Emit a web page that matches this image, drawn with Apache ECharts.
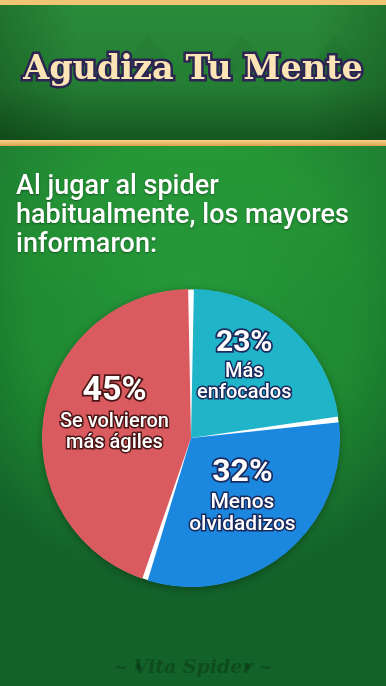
<!DOCTYPE html>
<html>
<head>
<meta charset="utf-8">
<script src="https://cdn.jsdelivr.net/npm/echarts@6/dist/echarts.min.js"></script>
<style>
  html, body { margin: 0; padding: 0; background: #1c7e2c; }
  #chart { width: 386px; height: 686px; }
</style>
</head>
<body>
<div id="chart"></div>
<script>
// Survey results: what older players reported after playing spider regularly
const titleText = 'Agudiza Tu Mente';
const subtitleLines = ['Al jugar al spider', 'habitualmente, los mayores', 'informaron:'];
const categories = ['Más\nenfocados', 'Menos\nolvidadizos', 'Se volvieron\nmás ágiles'];
const shares = [23, 32, 45];
const footerText = 'Vita Spider';

// Styling per slice
const sliceColors = ['#20b4c9', '#1c87df', '#da5b5f'];
const outlineColors = ['#1b2a5c', '#1b2a5c', '#4a1616'];
const pctSizes = [30, 32, 34];
const nameSizes = [20, 21, 20];
const labelShift = [[2, -14], [2, -2], [0, -12]];

const chart = echarts.init(document.getElementById('chart'), null, { renderer: 'canvas' });

function buildItems() {
  return shares.map((v, i) => {
    const lines = categories[i].split('\n').map(s => '{n|' + s + '}').join('\n');
    return {
      value: v,
      name: categories[i],
      itemStyle: { color: sliceColors[i] },
      label: {
        formatter: '{p|' + v + '%}\n' + lines,
        rich: {
          p: {
            fontFamily: 'Roboto', fontWeight: 'bold', fontSize: pctSizes[i],
            color: '#ffffff', textBorderColor: outlineColors[i], textBorderWidth: 3.5,
            lineHeight: pctSizes[i] + 4, padding: [0, 0, 2, 0]
          },
          n: {
            fontFamily: 'Roboto', fontWeight: 500, fontSize: nameSizes[i],
            color: '#ffffff', textBorderColor: outlineColors[i], textBorderWidth: 3,
            lineHeight: nameSizes[i] + 1
          }
        }
      }
    };
  });
}

const total = shares.reduce((a, b) => a + b, 0);

const option = {
  animation: false,
  graphic: [
    // felt background
    { type: 'rect', z: -10, shape: { x: 0, y: 0, width: 386, height: 686 },
      style: { fill: { type: 'radial', x: 0.5, y: 0.45, r: 0.72,
        colorStops: [
          { offset: 0, color: '#25983a' },
          { offset: 0.6, color: '#1f8a31' },
          { offset: 1, color: '#13622a' }
        ] } } },
    { type: 'rect', z: -9.5, shape: { x: 0, y: 146, width: 386, height: 160 },
      style: { fill: { type: 'linear', x: 0, y: 0, x2: 0, y2: 1,
        colorStops: [
          { offset: 0, color: 'rgba(60,190,70,0.25)' },
          { offset: 1, color: 'rgba(60,190,70,0)' }
        ] } } },
    // header band
    { type: 'rect', z: -9, shape: { x: 0, y: 0, width: 386, height: 141 },
      style: { fill: { type: 'linear', x: 0, y: 0, x2: 0, y2: 1,
        colorStops: [
          { offset: 0, color: '#2b8d3c' },
          { offset: 0.6, color: '#247e34' },
          { offset: 1, color: '#155620' }
        ] } } },
    { type: 'rect', z: -8, shape: { x: 0, y: 0, width: 386, height: 141 },
      style: { fill: { type: 'linear', x: 0, y: 0, x2: 1, y2: 0,
        colorStops: [
          { offset: 0, color: 'rgba(0,30,0,0.22)' },
          { offset: 0.2, color: 'rgba(0,30,0,0)' },
          { offset: 0.8, color: 'rgba(0,30,0,0)' },
          { offset: 1, color: 'rgba(0,30,0,0.22)' }
        ] } } },
    // faint suit marks in the header
    { type: 'text', z: -7, left: 118, top: 32,
      style: { text: '\u2660', font: '66px "DejaVu Sans"', fill: 'rgba(0,40,10,0.05)' } },
    { type: 'text', z: -7, left: 212, top: 32,
      style: { text: '\u2660', font: '66px "DejaVu Sans"', fill: 'rgba(0,40,10,0.05)' } },
    { type: 'text', z: -7, left: 305, top: 32,
      style: { text: '\u2660', font: '66px "DejaVu Sans"', fill: 'rgba(0,40,10,0.05)' } },
    // gold trims
    { type: 'rect', z: -6, shape: { x: 0, y: 0, width: 386, height: 5 },
      style: { fill: '#efc473' } },
    { type: 'rect', z: -6, shape: { x: 0, y: 140, width: 386, height: 6 },
      style: { fill: { type: 'linear', x: 0, y: 0, x2: 0, y2: 1,
        colorStops: [
          { offset: 0, color: '#f7d489' },
          { offset: 1, color: '#dca14e' }
        ] } } },
    // title: dark outline with drop shadow underneath, cream face on top
    { type: 'text', z: 10, x: 193, y: 70,
      style: {
        text: titleText, font: 'bold 33.5px "DejaVu Serif"',
        align: 'center', verticalAlign: 'middle',
        fill: '#2c2452', stroke: '#2c2452', lineWidth: 5,
        shadowColor: 'rgba(0,0,0,0.45)', shadowBlur: 4, shadowOffsetY: 2
      } },
    { type: 'text', z: 11, x: 193, y: 70,
      style: {
        text: titleText, font: 'bold 33.5px "DejaVu Serif"',
        align: 'center', verticalAlign: 'middle',
        fill: '#fbe5b6'
      } },
    // subtitle
    { type: 'text', z: 10, left: 16, top: 173,
      style: {
        text: subtitleLines.join('\n'), font: '500 27px Roboto',
        lineHeight: 29, fill: '#ffffff',
        textShadowColor: 'rgba(0,0,0,0.4)', textShadowBlur: 2, textShadowOffsetY: 1
      } },
    // footer
    { type: 'text', z: 10, x: 193, y: 668,
      style: {
        text: footerText, font: 'italic bold 19px "DejaVu Serif"',
        align: 'center', verticalAlign: 'middle', fill: 'rgba(8,50,18,0.45)'
      } },
    { type: 'text', z: 10, x: 143, y: 669,
      style: {
        text: '~ \u2022', font: 'bold 16px "DejaVu Serif"',
        align: 'right', verticalAlign: 'middle', fill: 'rgba(8,50,18,0.45)'
      } },
    { type: 'text', z: 10, x: 243, y: 669,
      style: {
        text: '\u2022 ~', font: 'bold 16px "DejaVu Serif"',
        align: 'left', verticalAlign: 'middle', fill: 'rgba(8,50,18,0.45)'
      } }
  ],
  series: [
    {
      // white backing disc that shows through the gaps between slices
      type: 'pie', silent: true, z: 1,
      center: [191, 438], radius: 148.5,
      label: { show: false }, labelLine: { show: false },
      itemStyle: { color: '#ffffff', shadowColor: 'rgba(0,0,0,0.35)', shadowBlur: 10, shadowOffsetY: 2 },
      data: [{ value: total, name: 'total' }]
    },
    {
      type: 'pie', silent: true, z: 2,
      center: [191, 438], radius: 149, startAngle: 90, clockwise: true,
      padAngle: 2.2,
      label: { show: true, position: 'inside', align: 'center' },
      labelLine: { show: false },
      labelLayout: function (params) {
        const s = labelShift[params.dataIndex];
        return { dx: s[0], dy: s[1] };
      },
      data: buildItems()
    }
  ]
};

chart.setOption(option);
</script>
</body>
</html>
